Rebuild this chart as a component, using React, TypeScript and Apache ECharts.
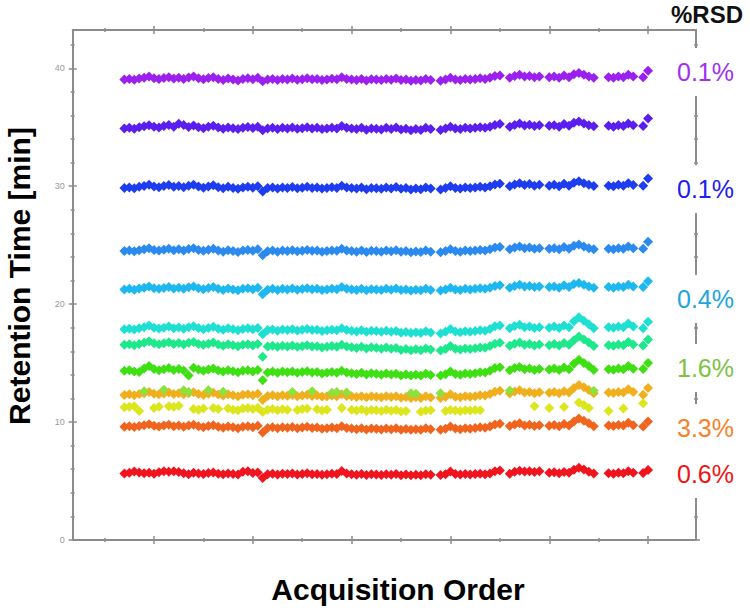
import React, { useEffect, useRef } from "react";
import * as echarts from "echarts";

// ---------- data ----------
const FIRST_ORDER = 14; // acquisition order of the first injection

const rt_purple = [
  39.05, 39.10, 39.03, 39.13, 39.20, 39.30, 39.15, 39.10, 39.17, 39.25,
  39.13, 39.20, 39.10, 39.23, 39.30, 39.15, 39.07, 39.17, 39.25, 39.10,
  39.00, 39.13, 39.05, 38.97, 39.10, 39.15, 39.07, 39.20, 38.90, 39.05,
  39.10, 39.00, 39.10, 39.05, 39.13, 39.03, 39.08, 39.15, 39.07, 39.10,
  39.00, 39.05, 39.11, 39.07, 39.25, 39.10, 39.05, 39.00, 39.10, 38.97,
  39.07, 39.05, 39.00, 39.10, 39.03, 39.13, 39.00, 39.05, 38.95, 39.02,
  38.97, 39.10, 39.00, null, 38.95, 39.05, 39.20, 39.05, 39.00, 39.10,
  39.05, 39.10, 39.15, 39.10, 39.20, 39.35, 39.40, null, 39.20, 39.35,
  39.45, 39.30, 39.35, 39.25, 39.30, null, 39.25, 39.30, 39.20, 39.40,
  39.25, 39.50, 39.60, 39.45, 39.30, 39.20, null, null, 39.25, 39.20,
  39.30, 39.25, 39.45, 39.30, null, 39.25, 39.80,
];
const rt_violet = [
  34.90, 34.95, 34.88, 35.00, 35.08, 35.18, 35.05, 34.98, 35.10, 35.20,
  35.05, 35.30, 35.20, 35.02, 35.15, 35.00, 34.92, 35.05, 35.12, 34.98,
  34.88, 34.98, 34.92, 34.85, 34.95, 35.02, 34.93, 35.05, 34.75, 34.90,
  34.95, 34.85, 34.95, 34.90, 34.98, 34.88, 34.92, 35.00, 34.90, 34.95,
  34.85, 34.90, 34.95, 34.90, 35.10, 34.95, 34.90, 34.85, 34.95, 34.80,
  34.90, 34.88, 34.82, 34.95, 34.85, 34.98, 34.82, 34.88, 34.75, 34.85,
  34.78, 34.95, 34.85, null, 34.78, 34.90, 35.05, 34.90, 34.85, 34.95,
  34.90, 34.95, 35.00, 34.95, 35.05, 35.20, 35.28, null, 35.05, 35.20,
  35.32, 35.15, 35.22, 35.10, 35.18, null, 35.12, 35.18, 35.05, 35.28,
  35.12, 35.38, 35.48, 35.32, 35.18, 35.08, null, null, 35.12, 35.05,
  35.18, 35.10, 35.32, 35.18, null, 35.10, 35.75,
];
const rt_blue = [
  29.85, 29.90, 29.82, 29.95, 30.02, 30.12, 29.98, 29.92, 30.02, 30.10,
  29.95, 30.02, 29.92, 30.05, 30.12, 29.98, 29.88, 29.98, 30.08, 29.92,
  29.82, 29.95, 29.85, 29.78, 29.90, 29.95, 29.88, 30.00, 29.55, 29.85,
  29.90, 29.80, 29.90, 29.85, 29.93, 29.82, 29.88, 29.95, 29.85, 29.90,
  29.80, 29.85, 29.92, 29.86, 30.05, 29.90, 29.85, 29.80, 29.90, 29.75,
  29.85, 29.82, 29.78, 29.90, 29.80, 29.93, 29.78, 29.85, 29.72, 29.80,
  29.75, 29.90, 29.80, null, 29.72, 29.85, 30.00, 29.85, 29.80, 29.90,
  29.85, 29.90, 29.95, 29.90, 30.00, 30.15, 30.22, null, 30.00, 30.15,
  30.25, 30.10, 30.18, 30.05, 30.12, null, 30.05, 30.12, 30.00, 30.22,
  30.05, 30.30, 30.42, 30.25, 30.12, 30.02, null, null, 30.05, 30.00,
  30.12, 30.05, 30.25, 30.10, null, 30.05, 30.65,
];
const rt_dodger = [
  24.50, 24.55, 24.48, 24.58, 24.65, 24.75, 24.60, 24.55, 24.62, 24.70,
  24.58, 24.65, 24.55, 24.68, 24.75, 24.60, 24.52, 24.62, 24.70, 24.55,
  24.45, 24.58, 24.50, 24.42, 24.55, 24.60, 24.52, 24.65, 24.15, 24.48,
  24.55, 24.45, 24.55, 24.50, 24.58, 24.48, 24.53, 24.60, 24.52, 24.55,
  24.45, 24.50, 24.56, 24.52, 24.70, 24.55, 24.50, 24.45, 24.55, 24.42,
  24.52, 24.50, 24.45, 24.55, 24.48, 24.58, 24.45, 24.50, 24.40, 24.47,
  24.42, 24.55, 24.45, null, 24.40, 24.50, 24.65, 24.50, 24.45, 24.55,
  24.50, 24.55, 24.60, 24.55, 24.65, 24.80, 24.85, null, 24.65, 24.80,
  24.90, 24.75, 24.80, 24.70, 24.75, null, 24.70, 24.75, 24.65, 24.85,
  24.70, 24.95, 25.05, 24.90, 24.75, 24.65, null, null, 24.70, 24.65,
  24.75, 24.70, 24.90, 24.75, null, 24.70, 25.30,
];
const rt_sky = [
  21.25, 21.30, 21.22, 21.33, 21.40, 21.50, 21.35, 21.30, 21.37, 21.45,
  21.33, 21.40, 21.30, 21.43, 21.50, 21.35, 21.27, 21.37, 21.45, 21.30,
  21.20, 21.33, 21.25, 21.17, 21.30, 21.35, 21.27, 21.40, 20.85, 21.22,
  21.30, 21.20, 21.30, 21.25, 21.33, 21.23, 21.28, 21.35, 21.27, 21.30,
  21.20, 21.25, 21.31, 21.27, 21.45, 21.30, 21.25, 21.20, 21.30, 21.17,
  21.27, 21.25, 21.20, 21.30, 21.23, 21.33, 21.20, 21.25, 21.15, 21.22,
  21.17, 21.30, 21.20, null, 21.15, 21.25, 21.40, 21.25, 21.20, 21.30,
  21.25, 21.30, 21.35, 21.30, 21.40, 21.55, 21.60, null, 21.40, 21.55,
  21.65, 21.50, 21.55, 21.45, 21.50, null, 21.45, 21.50, 21.40, 21.60,
  21.45, 21.70, 21.80, 21.65, 21.50, 21.40, null, null, 21.45, 21.40,
  21.50, 21.45, 21.65, 21.50, null, 21.45, 21.95,
];
const rt_cyan = [
  17.87, 17.92, 17.85, 17.95, 18.05, 18.18, 18.00, 17.93, 18.00, 18.10,
  17.95, 18.02, 17.92, 18.05, 18.12, 17.97, 17.88, 17.98, 18.08, 17.92,
  17.82, 17.95, 17.87, 17.78, 17.90, 17.95, 17.87, 17.98, 17.45, 17.80,
  17.85, 17.75, 17.85, 17.80, 17.88, 17.76, 17.82, 17.90, 17.80, 17.83,
  17.72, 17.78, 17.84, 17.78, 17.95, 17.80, 17.74, 17.68, 17.78, 17.65,
  17.75, 17.72, 17.65, 17.75, 17.66, 17.72, 17.58, 17.64, 17.55, 17.62,
  17.55, 17.70, 17.60, null, 17.52, 17.65, 17.90, 17.68, 17.62, 17.70,
  17.66, 17.72, 17.78, 17.75, 17.90, 18.12, 18.20, null, 17.95, 18.15,
  18.25, 18.05, 18.10, 17.98, 18.05, null, 18.00, 18.10, 17.98, 18.20,
  18.05, 18.55, 18.90, 18.60, 18.30, 17.95, null, null, 18.05, 18.00,
  18.10, 18.05, 18.35, 18.10, null, 17.95, 18.50,
];
const rt_spring = [
  16.55, 16.60, 16.52, 16.62, 16.72, 16.85, 16.68, 16.60, 16.68, 16.78,
  16.62, 16.70, 16.58, 16.72, 16.80, 16.63, 16.55, 16.65, 16.75, 16.58,
  16.48, 16.60, 16.52, 16.43, 16.55, 16.60, 16.50, 16.62, 15.55, 16.40,
  16.48, 16.38, 16.48, 16.42, 16.50, 16.38, 16.44, 16.52, 16.40, 16.44,
  16.32, 16.38, 16.45, 16.38, 16.55, 16.40, 16.34, 16.28, 16.38, 16.24,
  16.34, 16.30, 16.22, 16.32, 16.22, 16.28, 16.12, 16.20, 16.10, 16.18,
  16.10, 16.25, 16.15, null, 16.08, 16.20, 16.45, 16.22, 16.16, 16.25,
  16.20, 16.27, 16.33, 16.30, 16.45, 16.65, 16.72, null, 16.48, 16.65,
  16.75, 16.55, 16.62, 16.50, 16.58, null, 16.52, 16.62, 16.50, 16.70,
  16.55, 16.95, 17.25, 17.00, 16.75, 16.45, null, null, 16.52, 16.48,
  16.58, 16.52, 16.80, 16.58, null, 16.50, 17.00,
];
const rt_green = [
  14.35, 14.40, 14.30, 14.25, 14.55, 14.75, 14.50, 14.40, 14.48, 14.58,
  14.42, 14.50, 14.38, 13.95, 14.60, 14.45, 14.35, 14.45, 14.55, 14.38,
  14.28, 14.40, 14.32, 14.22, 14.35, 14.40, 14.30, 14.42, 13.55, 14.20,
  14.28, 14.18, 14.28, 14.22, 14.30, 14.18, 14.24, 14.32, 14.20, 14.24,
  14.12, 14.18, 14.25, 14.18, 14.35, 14.20, 14.14, 14.08, 14.18, 14.04,
  14.14, 14.10, 14.02, 14.12, 14.04, 14.10, 13.96, 14.04, 13.95, 14.02,
  13.96, 14.10, 14.00, null, 13.94, 14.05, 14.30, 14.08, 14.02, 14.12,
  14.08, 14.15, 14.22, 14.20, 14.35, 14.58, 14.65, null, 14.40, 14.58,
  14.68, 14.48, 14.55, 14.42, 14.50, null, 14.45, 14.55, 14.42, 14.62,
  14.48, 14.95, 15.28, 15.02, 14.75, 14.42, null, null, 14.48, 14.44,
  14.55, 14.48, 14.75, 14.52, null, 14.50, 15.00,
];
const rt_amber = [
  12.30, 12.35, 12.28, 12.38, 12.45, 12.55, 12.40, 12.35, 12.42, 12.50,
  12.38, 12.45, 12.35, 12.45, 12.52, 12.38, 12.30, 12.40, 12.48, 12.33,
  12.25, 12.35, 12.28, 12.20, 12.32, 12.36, 12.28, 12.40, 11.87, 12.22,
  12.28, 12.20, 12.28, 12.24, 12.30, 12.20, 12.25, 12.32, 12.22, 12.25,
  12.16, 12.20, 12.26, 12.20, 12.35, 12.22, 12.18, 12.12, 12.20, 12.10,
  12.18, 12.15, 12.10, 12.18, 12.12, 12.18, 12.06, 12.12, 12.04, 12.10,
  12.05, 12.18, 12.08, null, 12.04, 12.12, 12.35, 12.15, 12.10, 12.18,
  12.15, 12.20, 12.28, 12.25, 12.38, 12.58, 12.65, null, 12.42, 12.60,
  12.70, 12.50, 12.56, 12.45, 12.52, null, 12.48, 12.56, 12.45, 12.62,
  12.50, 12.90, 13.15, 12.95, 12.72, 12.45, null, null, 12.50, 12.46,
  12.56, 12.50, 12.78, 12.55, null, 12.32, 12.88,
];
const rt_lime = [
  null, null, null, null, 12.62, null, null, null, 12.75, null,
  null, null, 12.70, 12.55, null, null, null, 12.70, null, null,
  12.58, null, null, null, null, null, null, null, null, null,
  null, null, null, null, 12.55, null, null, null, 12.62, null,
  null, null, 12.48, 12.55, null, 12.50, null, null, null, null,
  null, null, null, null, null, null, null, null, 12.45, 12.40,
  null, null, null, null, 12.45, null, null, null, null, null,
  null, null, null, null, null, null, null, null, 12.68, null,
  null, null, null, null, null, null, null, null, null, null,
  null, null, null, null, null, 12.65, null, null, null, null,
  null, null, null, null, null, null, null,
];
const rt_yellow = [
  11.25, 11.30, 11.35, 10.95, null, null, 11.20, 11.30, null, 11.35,
  11.30, 11.38, null, null, 11.10, 11.05, 11.15, null, 11.20, 11.10,
  null, 11.15, 11.05, 11.00, 11.15, 11.20, 11.10, 11.22, 10.85, 11.05,
  11.10, 11.00, 11.08, 11.05, null, 11.02, 11.10, 11.15, null, 11.08,
  10.98, 11.05, null, null, 11.20, null, 11.05, 10.98, 11.06, 10.95,
  11.02, 11.00, 10.95, 11.05, 10.97, 11.02, 10.90, 10.95, null, null,
  10.88, 10.98, 11.00, null, null, 10.95, 11.02, 10.98, 10.95, 11.00,
  10.98, 11.02, 11.00, null, null, null, null, null, null, null,
  null, null, null, 11.35, null, null, 11.20, null, null, 11.28,
  null, null, 11.65, 11.45, 11.20, null, null, null, 10.95, null,
  null, 11.15, null, null, null, 11.60, null,
];
const rt_orange = [
  9.60, 9.65, 9.58, 9.66, 9.74, 9.82, 9.68, 9.62, 9.70, 9.78,
  9.65, 9.72, 9.60, 9.70, 9.78, 9.64, 9.56, 9.66, 9.74, 9.60,
  9.52, 9.63, 9.56, 9.48, 9.60, 9.64, 9.56, 9.68, 9.12, 9.50,
  9.56, 9.48, 9.56, 9.52, 9.58, 9.48, 9.53, 9.60, 9.50, 9.53,
  9.44, 9.48, 9.54, 9.48, 9.65, 9.50, 9.46, 9.40, 9.48, 9.38,
  9.46, 9.44, 9.38, 9.46, 9.40, 9.48, 9.36, 9.42, 9.34, 9.40,
  9.36, 9.48, 9.40, null, 9.34, 9.44, 9.62, 9.45, 9.40, 9.48,
  9.44, 9.50, 9.56, 9.52, 9.62, 9.80, 9.86, null, 9.66, 9.80,
  9.90, 9.72, 9.78, 9.66, 9.74, null, 9.68, 9.76, 9.65, 9.84,
  9.72, 10.05, 10.30, 10.12, 9.90, 9.65, null, null, 9.70, 9.66,
  9.76, 9.70, 9.95, 9.74, null, 9.62, 10.05,
];
const rt_red = [
  5.64, 5.70, 5.80, 5.72, 5.66, 5.70, 5.62, 5.75, 5.82, 5.78,
  5.84, 5.76, 5.66, 5.58, 5.70, 5.64, 5.60, 5.68, 5.72, 5.62,
  5.58, 5.64, 5.60, 5.56, 5.78, 5.82, 5.68, 5.72, 5.25, 5.58,
  5.62, 5.56, 5.62, 5.60, 5.64, 5.56, 5.60, 5.66, 5.58, 5.60,
  5.54, 5.58, 5.62, 5.60, 5.86, 5.64, 5.58, 5.54, 5.60, 5.52,
  5.58, 5.56, 5.52, 5.58, 5.54, 5.60, 5.50, 5.55, 5.50, 5.54,
  5.50, 5.58, 5.54, null, 5.52, 5.58, 5.80, 5.60, 5.55, 5.60,
  5.56, 5.60, 5.62, 5.58, 5.64, 5.82, 5.90, null, 5.62, 5.78,
  5.88, 5.80, 5.84, 5.76, 5.82, null, 5.70, 5.74, 5.66, 5.76,
  5.70, 5.95, 6.12, 5.98, 5.78, 5.64, null, null, 5.66, 5.62,
  5.70, 5.66, 5.82, 5.70, null, 5.68, 5.94,
];

const rsdTexts = ["0.1%", "0.1%", "0.4%", "1.6%", "3.3%", "0.6%"];

const yLabelTicks = [0, 10, 20, 30, 40];
const yMinorTicks = [2, 4, 6, 8, 12, 14, 16, 18, 22, 24, 26, 28, 32, 34, 36, 38, 42];
const xMajorTicks = [20, 40, 60, 80, 100, 120];
const xMinorTicks = [10, 30, 50, 70, 90, 110];

// ---------- styling / layout ----------
const X_MIN = 3.54;
const X_MAX = 129.7;
const Y_MIN = 0;
const Y_MAX = 43.25;
const AXIS_COLOR = "#8c8c8c";
const FONT = '"Liberation Sans", Arial, sans-serif';

const seriesStyles = [
  { values: rt_purple, color: "#9b20f0" },
  { values: rt_violet, color: "#5a1ef0" },
  { values: rt_blue, color: "#1e3cf0" },
  { values: rt_dodger, color: "#2a8af0" },
  { values: rt_sky, color: "#1eb8f0" },
  { values: rt_cyan, color: "#1ee0d2" },
  { values: rt_spring, color: "#1ee88c" },
  { values: rt_green, color: "#3ee014" },
  { values: rt_amber, color: "#f0b01e" },
  { values: rt_lime, color: "#8ee03c" },
  { values: rt_yellow, color: "#dce61e" },
  { values: rt_orange, color: "#f0641e" },
  { values: rt_red, color: "#f0141e" },
];

const rsdLayout = [
  { color: "#a030f0", y: 72 },
  { color: "#2020f0", y: 189 },
  { color: "#1ea5dc", y: 299 },
  { color: "#7dc242", y: 368 },
  { color: "#f5822a", y: 428 },
  { color: "#f01414", y: 474 },
];

function tickAxis(
  kind: "x" | "y",
  position: string,
  values: number[],
  length: number,
  inside: boolean,
  showLine: boolean,
  labels?: number[]
) {
  const ax: any = {
    type: "value",
    position,
    min: kind === "x" ? X_MIN : Y_MIN,
    max: kind === "x" ? X_MAX : Y_MAX,
    axisLine: {
      show: showLine,
      onZero: false,
      lineStyle: { color: AXIS_COLOR, width: 2 },
    },
    axisTick: {
      show: true,
      customValues: values,
      length,
      inside,
      lineStyle: { color: AXIS_COLOR, width: 1.5 },
    },
    minorTick: { show: false },
    splitLine: { show: false },
    axisLabel: { show: false },
  };
  if (labels) {
    ax.axisLabel = {
      show: true,
      customValues: labels,
      color: "#9a9a9a",
      fontSize: 9,
      fontFamily: FONT,
      margin: 8,
    };
  }
  return ax;
}

export default function App() {
  const ref = useRef<HTMLDivElement>(null);

  useEffect(() => {
    document.body.style.margin = "0";
    if (!ref.current) return;
    const chart = echarts.init(ref.current, undefined, { renderer: "svg" });

    const xAxes = [
      tickAxis("x", "bottom", xMajorTicks, 4, false, true),
      tickAxis("x", "bottom", xMajorTicks, 4, true, false),
      tickAxis("x", "bottom", xMinorTicks, 2, false, false),
      tickAxis("x", "bottom", xMinorTicks, 2, true, false),
      tickAxis("x", "top", xMajorTicks, 4, false, true),
      tickAxis("x", "top", xMajorTicks, 4, true, false),
      tickAxis("x", "top", xMinorTicks, 2, false, false),
      tickAxis("x", "top", xMinorTicks, 2, true, false),
    ];
    const yAxes = [
      tickAxis("y", "left", yLabelTicks, 4, false, true, yLabelTicks),
      tickAxis("y", "left", yLabelTicks, 4, true, false),
      tickAxis("y", "left", yMinorTicks, 2, false, false),
      tickAxis("y", "left", yMinorTicks, 2, true, false),
      tickAxis("y", "right", yLabelTicks, 4, false, true),
      tickAxis("y", "right", yLabelTicks, 4, true, false),
      tickAxis("y", "right", yMinorTicks, 2, false, false),
      tickAxis("y", "right", yMinorTicks, 2, true, false),
    ];

    const series = seriesStyles.map((s) => ({
      type: "scatter",
      xAxisIndex: 0,
      yAxisIndex: 0,
      symbol: "diamond",
      symbolSize: 10,
      itemStyle: { color: s.color, opacity: 1 },
      emphasis: { disabled: true },
      data: s.values
        .map((v, i) => (v === null ? null : [FIRST_ORDER + i, v]))
        .filter((d) => d !== null),
    }));

    const graphics: any[] = [];
    rsdTexts.forEach((t, i) => {
      const l = rsdLayout[i];
      graphics.push({
        type: "rect",
        z: 100,
        shape: { x: 668, y: l.y - 24, width: 82, height: 48 },
        style: { fill: "#ffffff" },
      });
      graphics.push({
        type: "text",
        z: 101,
        x: 677,
        y: l.y,
        style: {
          text: t,
          fill: l.color,
          font: `25px ${FONT}`,
          align: "left",
          verticalAlign: "middle",
          textAlign: "left",
          textVerticalAlign: "middle",
        },
      });
    });
    graphics.push({
      type: "text",
      z: 101,
      x: 707,
      y: 14,
      style: {
        text: "%RSD",
        fill: "#111",
        font: `bold 24px ${FONT}`,
        align: "center",
        verticalAlign: "middle",
        textAlign: "center",
        textVerticalAlign: "middle",
      },
    });
    graphics.push({
      type: "text",
      z: 101,
      x: 19,
      y: 276,
      rotation: Math.PI / 2,
      style: {
        text: "Retention Time [min]",
        fill: "#000",
        font: `bold 30px ${FONT}`,
        align: "center",
        verticalAlign: "middle",
        textAlign: "center",
        textVerticalAlign: "middle",
      },
    });
    graphics.push({
      type: "text",
      z: 101,
      x: 398,
      y: 589,
      style: {
        text: "Acquisition Order",
        fill: "#000",
        font: `bold 30px ${FONT}`,
        align: "center",
        verticalAlign: "middle",
        textAlign: "center",
        textVerticalAlign: "middle",
      },
    });

    chart.setOption({
      animation: false,
      backgroundColor: "#ffffff",
      grid: {
        left: 72.7,
        right: 54,
        top: 30,
        bottom: 71,
        containLabel: false,
        outerBoundsMode: "none",
      },
      xAxis: xAxes,
      yAxis: yAxes,
      series,
      graphic: graphics,
    });

    return () => chart.dispose();
  }, []);

  return <div ref={ref} style={{ width: 750, height: 611 }} />;
}
